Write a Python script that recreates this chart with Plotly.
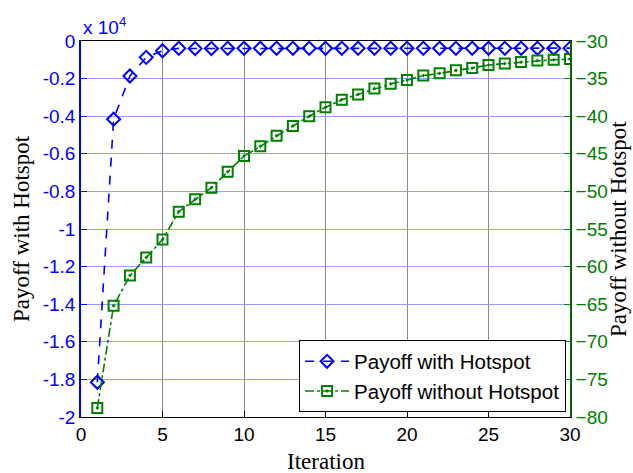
import plotly.graph_objects as go

iterations = list(range(1, 31))
payoff_with = [-18150, -4160, -1860, -870, -520, -390, -400, -400, -390, -385,
               -385, -385, -385, -385, -385, -385, -385, -385, -385, -385,
               -385, -385, -385, -385, -385, -385, -385, -385, -385, -380]
payoff_without = [-78.8, -65.2, -61.2, -58.8, -56.4, -52.7, -51.05, -49.5, -47.4, -45.3,
                  -44.0, -42.6, -41.3, -40.0, -38.8, -37.8, -37.1, -36.3, -35.7, -35.2,
                  -34.6, -34.3, -33.9, -33.6, -33.2, -33.0, -32.8, -32.6, -32.5, -32.4]
left_ticks = [-20000, -18000, -16000, -14000, -12000, -10000, -8000, -6000, -4000, -2000, 0]
right_ticks = [-80, -75, -70, -65, -60, -55, -50, -45, -40, -35, -30]
x_ticks = [0, 5, 10, 15, 20, 25, 30]

BLUE = "#0000ff"
GREEN = "#008000"
tick_font = dict(family="Liberation Sans, Arial", size=19)
title_font = dict(family="Liberation Serif, Times New Roman", size=23, color="black")

fig = go.Figure()
fig.add_trace(go.Scatter(
    x=iterations, y=payoff_with, name="Payoff with Hotspot", mode="lines+markers",
    line=dict(color=BLUE, width=1.6, dash="dash"),
    marker=dict(symbol="diamond-open", size=10, color=BLUE, line=dict(width=2, color=BLUE)),
))
fig.add_trace(go.Scatter(
    x=iterations, y=payoff_without, name="Payoff without Hotspot", mode="lines+markers",
    yaxis="y2",
    line=dict(color=GREEN, width=1.6, dash="dashdot"),
    marker=dict(symbol="square-open-dot", size=10, color=GREEN, line=dict(width=2, color=GREEN)),
))

fig.update_layout(
    width=633, height=473,
    margin=dict(l=81, r=63, t=41, b=56, autoexpand=False),
    paper_bgcolor="white", plot_bgcolor="white",
    showlegend=True,
    legend=dict(
        x=0.992, y=0.012, xanchor="right", yanchor="bottom",
        bgcolor="white", bordercolor="black", borderwidth=1,
        font=dict(family="Liberation Sans, Arial", size=20.5, color="black"),
        tracegroupgap=0, itemwidth=44,
    ),
    xaxis=dict(
        range=[0, 30], tickvals=x_ticks, ticks="inside", ticklen=6, tickcolor="black",
        showline=True, linecolor="black", linewidth=1, mirror=True,
        showgrid=True, gridcolor="#888888", gridwidth=1,
        zeroline=False, automargin=False,
        tickfont=dict(color="black", **tick_font),
    ),
    yaxis=dict(
        range=[-20000, 0], tickvals=left_ticks,
        ticktext=[f"{v/1e4:g}" for v in left_ticks],
        ticks="inside", ticklen=6, tickcolor=BLUE,
        showline=True, linecolor=BLUE, linewidth=1.5,
        showgrid=True, gridcolor="#9a9aff", gridwidth=1,
        zeroline=False, automargin=False,
        tickfont=dict(color=BLUE, **tick_font),
    ),
    yaxis2=dict(
        range=[-80, -30], tickvals=right_ticks, overlaying="y", side="right",
        ticks="inside", ticklen=6, tickcolor=GREEN,
        showline=True, linecolor="#006400", linewidth=1.5,
        showgrid=False, zeroline=False, automargin=False,
        tickfont=dict(color=GREEN, **tick_font),
    ),
    annotations=[
        dict(text="x 10<sup>4</sup>", xref="paper", yref="paper", x=0, y=1,
             xanchor="left", yanchor="bottom", showarrow=False, yshift=1,
             font=dict(family="Liberation Sans, Arial", size=19, color=BLUE)),
        dict(text="Iteration", xref="paper", yref="paper", x=0.5, y=0,
             xanchor="center", yanchor="middle", showarrow=False, yshift=-44,
             font=title_font),
        dict(text="Payoff with Hotspot", xref="paper", yref="paper", x=0, y=0.5,
             xanchor="center", yanchor="middle", showarrow=False, xshift=-60,
             textangle=-90, font=title_font),
        dict(text="Payoff without Hotspot", xref="paper", yref="paper", x=1, y=0.5,
             xanchor="center", yanchor="middle", showarrow=False, xshift=48,
             textangle=-90, font=title_font),
    ],
)

fig.write_html("out.html")
